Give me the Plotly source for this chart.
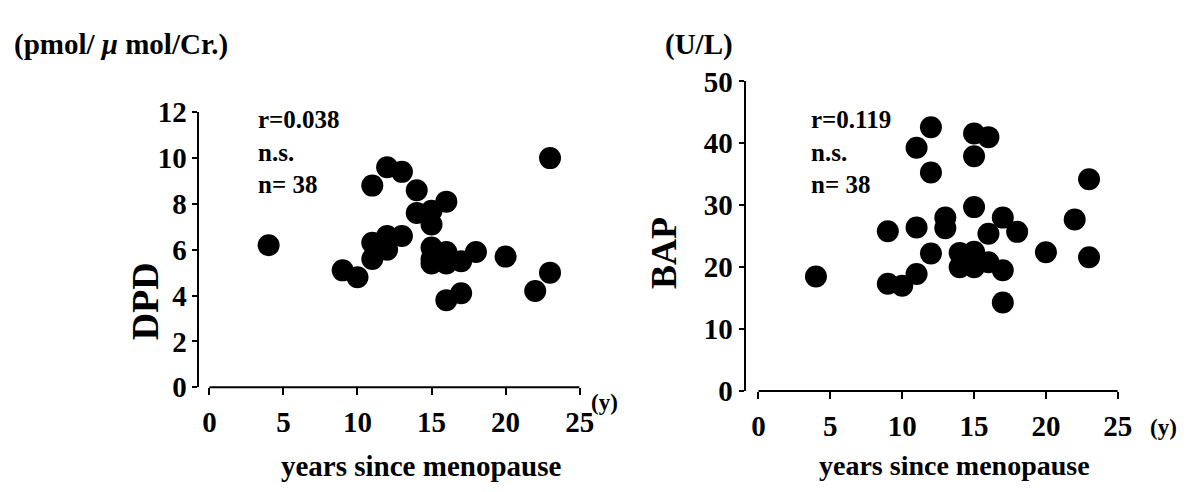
import plotly.graph_objects as go

# ---- data ----
dpd_years = [4, 9, 10, 11, 11, 11, 12, 12, 12, 13, 13, 14, 14, 15, 15, 15, 15, 15,
             16, 16, 16, 16, 17, 17, 18, 20, 22, 23, 23]
dpd_values = [6.2, 5.1, 4.8, 8.8, 6.3, 5.6, 9.6, 6.6, 6.0, 9.4, 6.6, 8.6, 7.6, 7.7, 7.1,
              6.1, 5.6, 5.4, 8.1, 5.9, 5.4, 3.8, 5.5, 4.1, 5.9, 5.7, 4.2, 10.0, 5.0]

bap_years = [4, 9, 9, 10, 11, 11, 11, 12, 12, 12, 13, 13, 14, 14, 15, 15, 15, 15, 15,
             16, 16, 16, 17, 17, 17, 18, 20, 22, 23, 23]
bap_values = [18.5, 25.8, 17.3, 17.0, 39.3, 26.4, 18.9, 42.6, 35.3, 22.2, 28.0, 26.3,
              22.3, 20.0, 41.6, 37.9, 29.7, 22.5, 20.0, 41.0, 25.4, 20.8, 28.0, 19.5,
              14.3, 25.7, 22.4, 27.7, 34.2, 21.6]

x_ticks = [0, 5, 10, 15, 20, 25]
dpd_ticks = [0, 2, 4, 6, 8, 10, 12]
bap_ticks = [0, 10, 20, 30, 40, 50]

FONT = "Liberation Serif"
W, H = 1195, 492

fig = go.Figure()
mk = dict(color="black", size=22, line=dict(width=0))
fig.add_trace(go.Scatter(x=dpd_years, y=dpd_values, mode="markers", marker=mk,
                         xaxis="x", yaxis="y", showlegend=False, cliponaxis=False))
fig.add_trace(go.Scatter(x=bap_years, y=bap_values, mode="markers", marker=mk,
                         xaxis="x2", yaxis="y2", showlegend=False, cliponaxis=False))

def px_dom(a, b, total):
    return [a / total, b / total]

tickfont = dict(family=FONT, size=29, color="black", weight="bold")
xcommon = dict(tickmode="array", tickvals=x_ticks, ticks="outside", ticklen=7,
               tickwidth=2, tickcolor="black", showline=False, showgrid=False,
               zeroline=False, tickfont=tickfont, ticklabelstandoff=2)
ycommon = dict(tickmode="array", ticks="outside", ticklen=5, tickwidth=2,
               tickcolor="black", showline=True, linewidth=2, linecolor="black",
               showgrid=False, zeroline=False, tickfont=tickfont, ticklabelstandoff=0)

L_BOT, L_TOP = 397, 103
R_BOT, R_TOP = 401, 70

fig.update_layout(
    width=W, height=H,
    margin=dict(l=0, r=0, t=0, b=0),
    paper_bgcolor="white", plot_bgcolor="white",
    xaxis=dict(domain=px_dom(202, 587, W), range=[-0.67, 25], anchor="y", **xcommon),
    yaxis=dict(domain=[1 - L_BOT / H, 1 - L_TOP / H], range=[0, 12], tickvals=dpd_ticks,
               anchor="x", **ycommon),
    xaxis2=dict(domain=px_dom(755, 1132, W), range=[-0.9, 25], anchor="y2", **xcommon),
    yaxis2=dict(domain=[1 - R_BOT / H, 1 - R_TOP / H], range=[0, 50], tickvals=bap_ticks,
                anchor="x2", **ycommon),
)

# x axis lines spanning 0..25 (gap from the y axis as in the original)
for xr, ybot in (("x", L_BOT), ("x2", R_BOT)):
    fig.add_shape(type="line", xref=xr, yref="paper", x0=x_ticks[0], x1=x_ticks[-1],
                  y0=1 - ybot / H, y1=1 - ybot / H, line=dict(color="black", width=2))

def ann(text, x, y, size, xanchor="left", yanchor="middle", angle=0, align="left"):
    fig.add_annotation(text=text, x=x / W, y=1 - y / H, xref="paper", yref="paper",
                       showarrow=False, xanchor=xanchor, yanchor=yanchor, textangle=angle,
                       align=align,
                       font=dict(family=FONT, size=size, color="black", weight="bold"))

# unit headers
ann("(pmol/ <i>μ</i> mol/Cr.)", 12, 31, 29)
ann("(U/L)", 671, 31, 29)

# y titles
ann("DPD", 147, 305, 38, xanchor="center", angle=-90)
ann("BAP", 673, 254, 36, xanchor="center", angle=-90)

# stats
ann("r=0.038<br>n.s.<br>n= 38", 259, 145, 25, yanchor="middle")
ann("r=0.119<br>n.s.<br>n= 38", 819, 145, 25, yanchor="middle")

# x titles and unit
ann("years since menopause", 426, 481, 29, xanchor="center")
ann("years since menopause", 967, 481, 28, xanchor="center")
ann("(y)", 612, 413, 23, xanchor="center")
ann("(y)", 1178, 440, 23, xanchor="center")

fig.write_html("out.html")
